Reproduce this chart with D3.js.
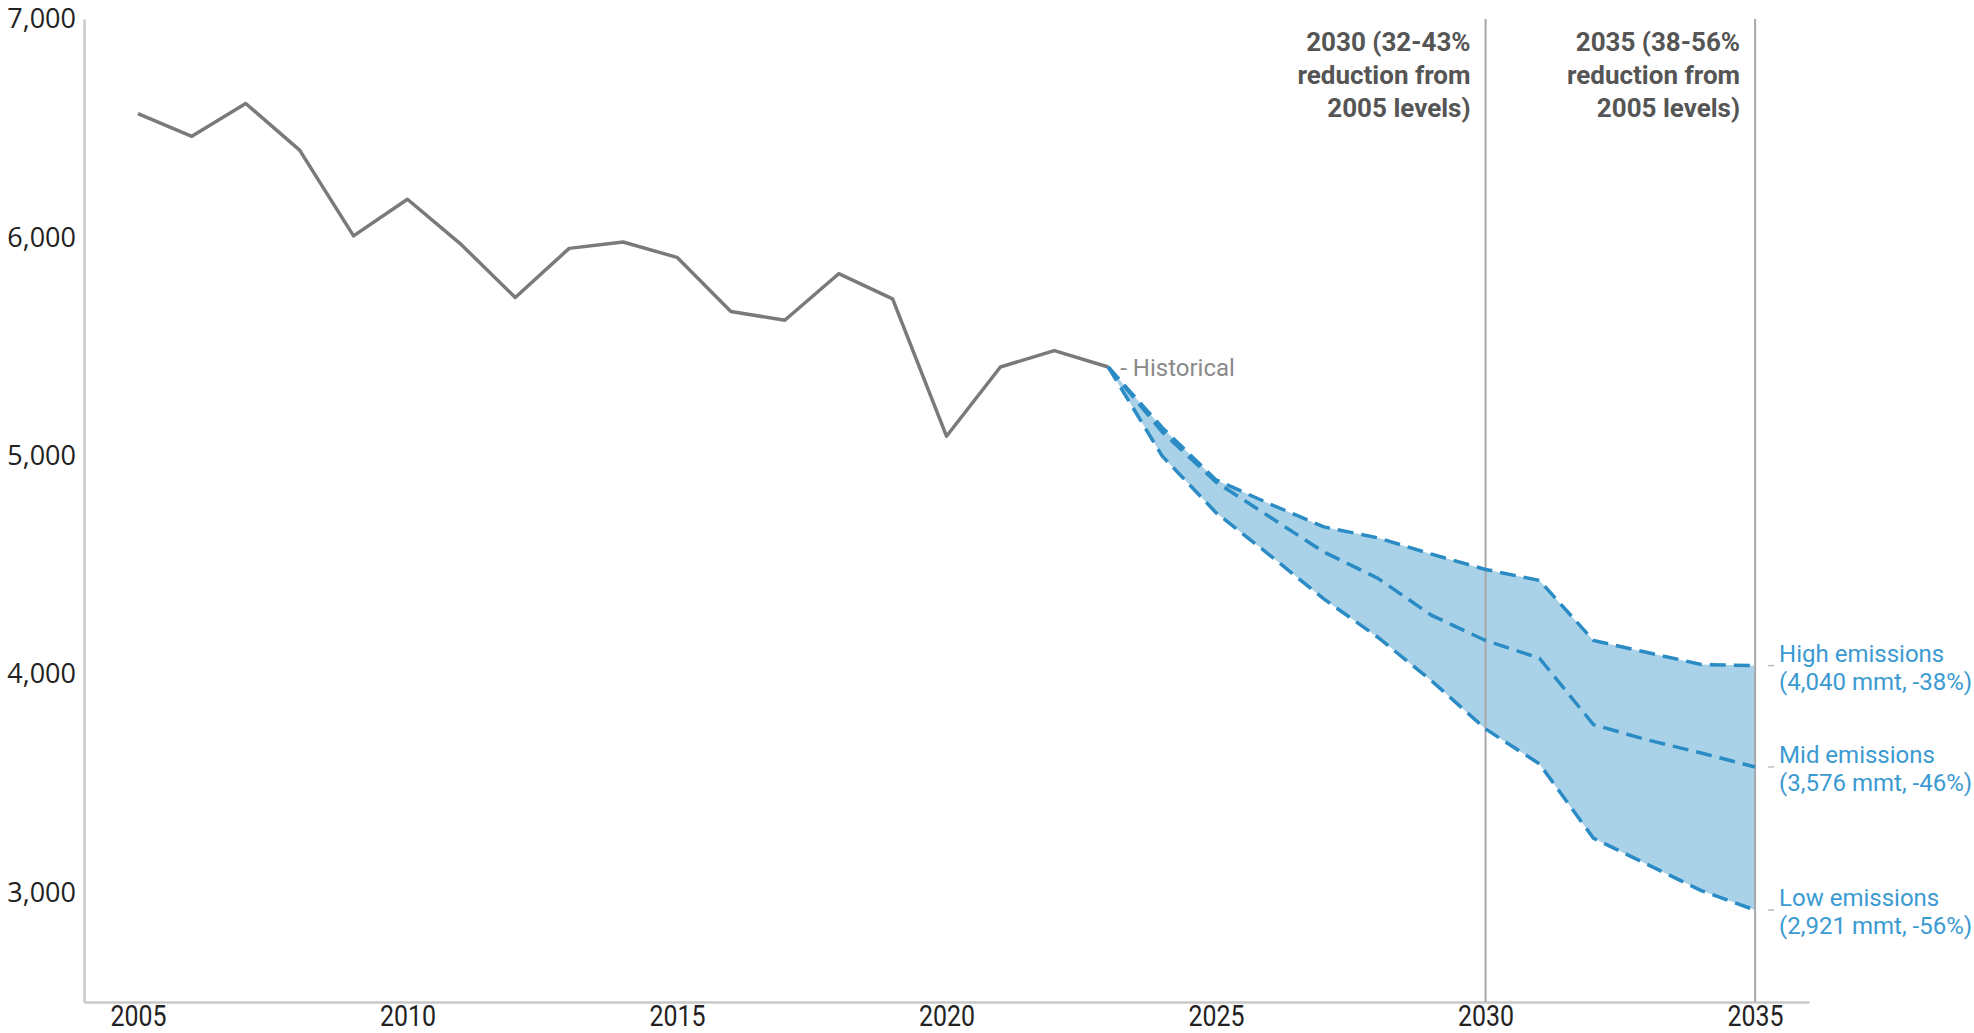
<!DOCTYPE html>
<html>
<head>
<meta charset="utf-8">
<script src="https://cdnjs.cloudflare.com/ajax/libs/d3/7.8.5/d3.min.js"></script>
<style>
  body { margin: 0; background: #fff; }
  svg { display: block; }
</style>
</head>
<body>
<div id="chart"></div>
<script>
// historical emissions, mmt
var histYears = [2005, 2006, 2007, 2008, 2009, 2010, 2011, 2012, 2013, 2014, 2015, 2016, 2017, 2018, 2019, 2020, 2021, 2022, 2023];
var histValues = [6567, 6463, 6613, 6400, 6007, 6175, 5967, 5725, 5950, 5979, 5909, 5661, 5621, 5834, 5719, 5090, 5407, 5482, 5407];

// projections
var projYears = [2023, 2024, 2025, 2026, 2027, 2028, 2029, 2030, 2031, 2032, 2033, 2034, 2035];
var highValues = [5407, 5130, 4890, 4780, 4675, 4625, 4550, 4480, 4430, 4155, 4100, 4045, 4040];
var midValues  = [5407, 5110, 4880, 4720, 4560, 4440, 4270, 4155, 4074, 3770, 3700, 3640, 3576];
var lowValues  = [5407, 5000, 4740, 4545, 4345, 4170, 3970, 3750, 3590, 3250, 3130, 3010, 2921];

var xTicks = [2005, 2010, 2015, 2020, 2025, 2030, 2035];
var yTicks = [3000, 4000, 5000, 6000, 7000];

var targetYears = [2030, 2035];
var targetNotes = [
  ['2030 (32-43%', 'reduction from', '2005 levels)'],
  ['2035 (38-56%', 'reduction from', '2005 levels)']
];
var scenarioNames = ['High emissions', 'Mid emissions', 'Low emissions'];
var scenarioNotes = ['(4,040 mmt, -38%)', '(3,576 mmt, -46%)', '(2,921 mmt, -56%)'];

var W = 1974, H = 1033;
var blue = '#2b8bc4', fill = '#a9d2e9', grey = '#7a7a7a';

var svg = d3.select('#chart').append('svg')
  .attr('width', W)
  .attr('height', H);

var x = d3.scaleLinear().domain([2004, 2036]).range([84, 1809]);
var y = d3.scaleLinear().domain([2500, 7000]).range([1002, 19]);

// axes
var xAxis = svg.append('g')
  .attr('transform', 'translate(0,' + y(2500) + ')')
  .call(d3.axisBottom(x).tickValues(xTicks).tickFormat(d3.format('d')).tickSize(0).tickPadding(3));
xAxis.select('.domain').attr('stroke', '#c8c8c8').attr('stroke-width', 2.5);
// narrow labels, like the condensed face in the original
xAxis.selectAll('text')
  .attr('font-family', 'Roboto, sans-serif')
  .attr('font-size', 29)
  .attr('transform', 'scale(0.86,1)')
  .attr('fill', '#222');

var yAxis = svg.append('g')
  .attr('transform', 'translate(' + x(2004) + ',0)')
  .call(d3.axisLeft(y).tickValues(yTicks).tickFormat(d3.format(',')).tickSize(0).tickPadding(8));
yAxis.select('.domain').attr('stroke', '#c8c8c8').attr('stroke-width', 2.5);
yAxis.selectAll('text')
  .attr('font-family', '"Open Sans", sans-serif')
  .attr('font-size', 27)
  .attr('fill', '#222');

// projection band
var band = projYears.map(function(d, i) {
  return {year: d, high: highValues[i], low: lowValues[i]};
});
svg.append('path')
  .datum(band)
  .attr('d', d3.area()
    .x(function(d) { return x(d.year); })
    .y0(function(d) { return y(d.low); })
    .y1(function(d) { return y(d.high); }))
  .attr('fill', fill);

// target year lines + notes
targetYears.forEach(function(yr, i) {
  svg.append('line')
    .attr('x1', x(yr)).attr('x2', x(yr))
    .attr('y1', y(7000)).attr('y2', y(2500))
    .attr('stroke', '#a8a8a8')
    .attr('stroke-width', 2);

  var t = svg.append('text')
    .attr('text-anchor', 'end')
    .attr('font-family', 'Roboto, sans-serif')
    .attr('font-weight', 'bold')
    .attr('font-size', 26)
    .attr('fill', '#555');
  targetNotes[i].forEach(function(s, j) {
    t.append('tspan')
      .attr('x', x(yr) - 15)
      .attr('y', 51 + j * 33)
      .text(s);
  });
});

// historical line
var hist = histYears.map(function(d, i) { return {year: d, v: histValues[i]}; });
var line = d3.line()
  .x(function(d) { return x(d.year); })
  .y(function(d) { return y(d.v); });

svg.append('path')
  .datum(hist)
  .attr('d', line)
  .attr('fill', 'none')
  .attr('stroke', grey)
  .attr('stroke-width', 3.5)
  .attr('stroke-linejoin', 'round');

svg.append('text')
  .attr('x', x(2023) + 12)
  .attr('y', y(histValues[histValues.length - 1]) + 9)
  .attr('font-family', 'Roboto, sans-serif')
  .attr('font-size', 24)
  .attr('fill', '#8a8a8a')
  .text('- Historical');

// scenario lines
[highValues, midValues, lowValues].forEach(function(vals, i) {
  var pts = projYears.map(function(d, k) { return {year: d, v: vals[k]}; });
  svg.append('path')
    .datum(pts)
    .attr('d', line)
    .attr('fill', 'none')
    .attr('stroke', blue)
    .attr('stroke-width', 3.5)
    .attr('stroke-dasharray', '16,8');

  var endY = y(vals[vals.length - 1]);
  svg.append('line')
    .attr('x1', x(2035) + 13).attr('x2', x(2035) + 19)
    .attr('y1', endY).attr('y2', endY)
    .attr('stroke', '#bbb')
    .attr('stroke-width', 1.5);

  var lab = svg.append('text')
    .attr('font-family', 'Roboto, sans-serif')
    .attr('font-size', 24)
    .attr('fill', '#3b9ad2');
  lab.append('tspan').attr('x', x(2035) + 24).attr('y', endY - 4).text(scenarioNames[i]);
  lab.append('tspan').attr('x', x(2035) + 24).attr('y', endY + 24).text(scenarioNotes[i]);
});
</script>
</body>
</html>
